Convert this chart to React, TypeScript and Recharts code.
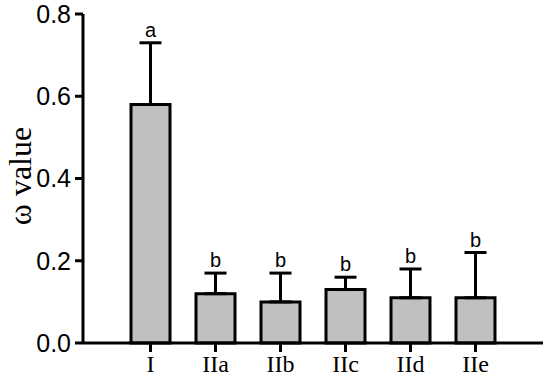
import { ComposedChart, Bar, Line, XAxis, YAxis, ErrorBar, LabelList } from "recharts";

const groups = ["I", "IIa", "IIb", "IIc", "IId", "IIe"];
const omega = [0.58, 0.12, 0.1, 0.13, 0.11, 0.11];
const upperErr = [0.15, 0.05, 0.07, 0.03, 0.07, 0.11];
const letters = ["a", "b", "b", "b", "b", "b"];
const yTicks = [0, 0.2, 0.4, 0.6, 0.8];

const data = groups.map((g, i) => ({
  group: g,
  omega: omega[i],
  err: [0, upperErr[i]],
  top: omega[i] + upperErr[i],
  sig: letters[i],
}));

export default function App() {
  return (
    <div style={{ position: "absolute", left: 0, top: 0, width: 550, height: 387, background: "#fff" }}>
      <ComposedChart width={550} height={387} data={data} margin={{ top: 14, right: 7, bottom: 0, left: 0 }}>
        <XAxis
          dataKey="group"
          padding={{ left: 35, right: 35 }}
          height={44}
          tickSize={9}
          tickMargin={3}
          axisLine={{ stroke: "#000", strokeWidth: 3 }}
          tickLine={{ stroke: "#000", strokeWidth: 3 }}
          tick={{ fill: "#000", fontSize: 24, fontFamily: "Liberation Serif" }}
          interval={0}
        />
        <YAxis
          width={83}
          domain={[0, 0.8]}
          ticks={yTicks}
          tickFormatter={(v: number) => v.toFixed(1)}
          tickSize={8}
          tickMargin={4}
          axisLine={{ stroke: "#000", strokeWidth: 3 }}
          tickLine={{ stroke: "#000", strokeWidth: 3 }}
          tick={{ fill: "#000", fontSize: 25, fontFamily: "Liberation Sans" }}
        />
        <Bar dataKey="omega" fill="#c0c0c0" stroke="#000" strokeWidth={3} barSize={39} isAnimationActive={false}>
          <ErrorBar dataKey="err" width={11} stroke="#000" strokeWidth={3} direction="y" />
        </Bar>
        <Line dataKey="top" stroke="none" dot={false} activeDot={false} isAnimationActive={false}>
          <LabelList
            dataKey="sig"
            position="top"
            offset={6}
            style={{ fill: "#000", fontSize: 20, fontFamily: "Liberation Sans" }}
          />
        </Line>
      </ComposedChart>
      <div
        style={{
          position: "absolute",
          left: 20,
          top: 176,
          transform: "translate(-50%, -50%) rotate(-90deg)",
          fontFamily: "'Liberation Serif', serif",
          fontSize: 32,
          lineHeight: 1,
          whiteSpace: "nowrap",
          color: "#000",
        }}
      >
        ω value
      </div>
    </div>
  );
}
